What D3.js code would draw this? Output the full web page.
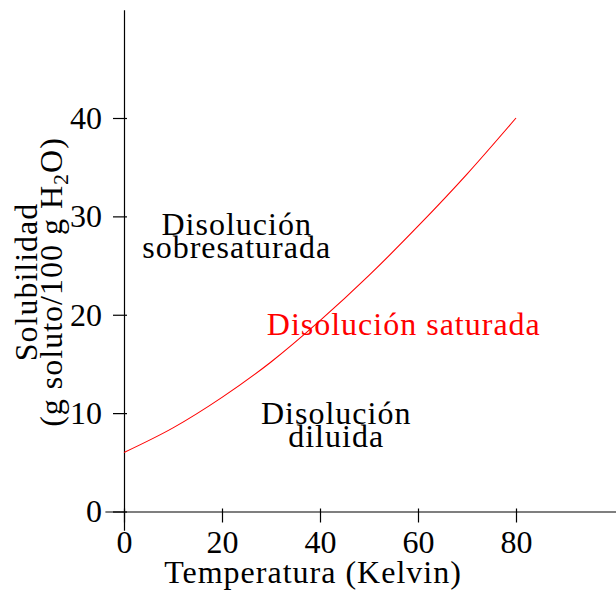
<!DOCTYPE html>
<html>
<head>
<meta charset="utf-8">
<script src="https://cdn.jsdelivr.net/npm/d3@7"></script>
<style>
  body { margin: 0; background: #fff; }
  text { font-family: "Liberation Serif", serif; }
</style>
</head>
<body>
<svg id="chart"></svg>
<script>
// temperatura (K) y solubilidad
const temperaturas = [0, 10, 20, 30, 40, 50, 60, 70, 80];
const solubilidad = [6, 8.5, 11.6, 15.2, 19.4, 24.0, 29.0, 34.3, 40];
const xTicks = [0, 20, 40, 60, 80];
const yTicks = [0, 10, 20, 30, 40];

const width = 616;
const height = 594;
const fontSize = 32;
const spacing = '1px'; // Computer Modern runs wider than Times

const svg = d3.select('#chart')
  .attr('width', width)
  .attr('height', height);

const x = d3.scaleLinear().domain([0, 80]).range([124, 516]);
const y = d3.scaleLinear().domain([0, 40]).range([511.5, 118]);

// axis lines run a bit past the origin, like the original
const xLine = x.copy().domain([-3.9, 100.4]).range([x(-3.9), x(100.4)]);
const yLine = y.copy().domain([-1.9, 51]).range([y(-1.9), y(51)]);

const xAxis = svg.append('g')
  .attr('transform', `translate(0, ${y(0)})`)
  .call(d3.axisBottom(xLine).tickValues(xTicks).tickSize(11).tickSizeOuter(0).tickPadding(8));

const yAxis = svg.append('g')
  .attr('transform', `translate(${x(0)}, 0)`)
  .call(d3.axisLeft(yLine).tickValues(yTicks).tickSize(11).tickSizeOuter(0).tickPadding(11));

[xAxis, yAxis].forEach((g) => {
  g.select('.domain').attr('stroke', '#000').attr('stroke-width', 1.2);
  g.selectAll('.tick line').attr('stroke', '#000').attr('stroke-width', 1.2);
  g.selectAll('.tick text')
    .attr('fill', '#000')
    .style('font-family', '"Liberation Serif", serif')
    .style('font-size', fontSize + 'px');
});
xAxis.selectAll('.tick line').attr('y1', -3);
yAxis.selectAll('.tick line').attr('x1', 3);

// saturation curve
const line = d3.line()
  .x((d, i) => x(temperaturas[i]))
  .y((d) => y(d))
  .curve(d3.curveMonotoneX);

svg.append('path')
  .datum(solubilidad)
  .attr('d', line)
  .attr('fill', 'none')
  .attr('stroke', '#ff0000')
  .attr('stroke-width', 1.1);

// region labels
const labels = [
  { lines: ['Disolución', 'sobresaturada'], t: 23, s: 28.1, color: '#000' },
  { lines: ['Disolución saturada'], t: 57.1, s: 17.9, color: '#ff0000' },
  { lines: ['Disolución', 'diluida'], t: 43.3, s: 8.85, color: '#000' },
];

labels.forEach((l) => {
  const txt = svg.append('text')
    .attr('text-anchor', 'middle')
    .attr('fill', l.color)
    .style('font-size', fontSize + 'px')
    .style('letter-spacing', spacing);
  l.lines.forEach((s, i) => {
    txt.append('tspan')
      .attr('x', x(l.t))
      .attr('y', y(l.s) + i * 23)
      .text(s);
  });
});

// axis titles
svg.append('text')
  .attr('x', 313)
  .attr('y', 583)
  .attr('text-anchor', 'middle')
  .style('font-size', fontSize + 'px')
  .style('letter-spacing', spacing)
  .text('Temperatura (Kelvin)');

const yTitle = svg.append('text')
  .attr('transform', 'translate(37, 282) rotate(-90)')
  .attr('text-anchor', 'middle')
  .style('font-size', fontSize + 'px')
  .style('letter-spacing', spacing);
yTitle.append('tspan').attr('x', 0).attr('y', 0).text('Solubilidad');
const l2 = yTitle.append('tspan').attr('x', 0).attr('y', 25);
l2.append('tspan').text('(g soluto/100 g H');
l2.append('tspan').attr('dy', 6).style('font-size', '22px').text('2');
l2.append('tspan').attr('dy', -6).text('O)');
</script>
</body>
</html>
